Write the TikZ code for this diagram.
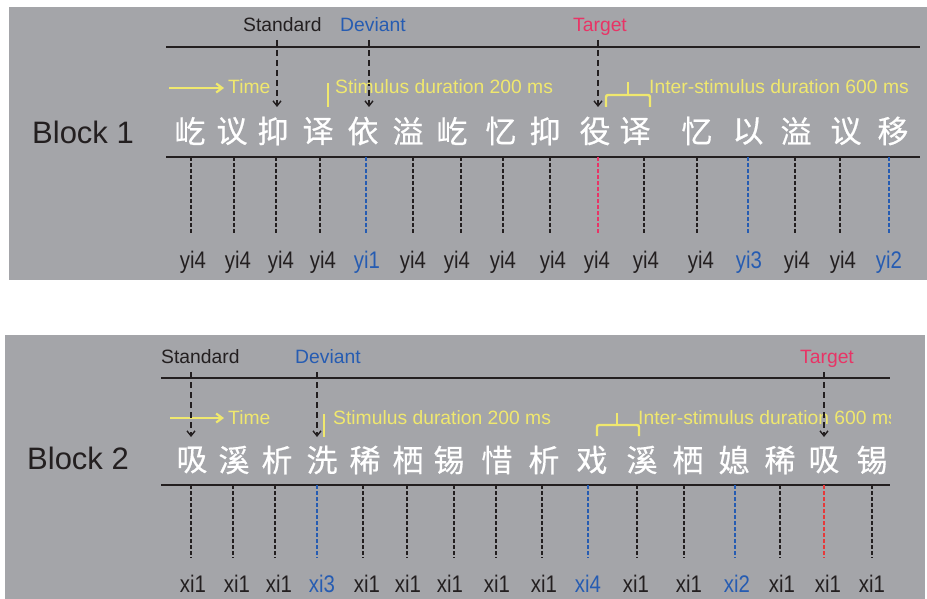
\documentclass[tikz,border=0pt]{standalone}
\usepackage{fontspec}
\setmainfont{Liberation Sans}
\newfontfamily\cjk[FakeBold=0.5]{Noto Sans CJK SC}
\newfontfamily\narrowf[FakeStretch=0.85]{Liberation Sans}
\usetikzlibrary{arrows.meta}
\definecolor{bg}{RGB}{164,165,169}
\definecolor{ylw}{RGB}{240,232,110}
\definecolor{blu}{RGB}{38,92,178}
\definecolor{pnk}{RGB}{232,52,102}
\definecolor{rd}{RGB}{230,58,58}
\definecolor{ink}{RGB}{35,31,32}
\tikzset{
  lbl/.style={inner sep=0pt, anchor=base west, font=\fontsize{19.3}{19.3}\selectfont},
  yl/.style={lbl, text=ylw},
  blk/.style={inner sep=0pt, anchor=base west, text=ink, font=\fontsize{31}{31}\selectfont},
  hz/.style={line width=2.6pt, ink},
  chr/.style={inner sep=0pt, text=white, font=\cjk\fontsize{31}{31}\selectfont},
  syl/.style={inner sep=0pt, anchor=base, font=\narrowf\fontsize{24}{24}\selectfont},
  tick/.style={line width=1.3pt, dash pattern=on 4pt off 2pt},
  darr/.style={line width=1.4pt, ink, dash pattern=on 6pt off 4pt, -{Straight Barb[length=5pt,width=8pt,line width=1.4pt]}},
  yarr/.style={line width=2.2pt, ylw, -{Straight Barb[length=6pt,width=9pt,line width=2.2pt]}},
  ybar/.style={line width=2.6pt, ylw},
}
\begin{document}
\begin{tikzpicture}[x=1pt,y=-1pt]
\useasboundingbox (0,0) rectangle (927,599);
\fill[white] (0,0) rectangle (927,599);
% ---------- Block 1 ----------
\fill[bg] (9,7) rectangle (927,280);
\coordinate (l1a) at (166,47); \coordinate (l1b) at (920,47);
\coordinate (l1c) at (166,157); \coordinate (l1d) at (920,157);
\draw[hz] (l1a) -- (l1b);
\draw[hz] (l1c) -- (l1d);
\node[blk] (b1) at (32,144) {Block 1};
\node[lbl, text=ink] (s1) at (243,32) {Standard};
\node[lbl, text=blu] (d1) at (340,32) {Deviant};
\node[lbl, text=pnk] (t1) at (573,32) {Target};
\coordinate (s1a) at (277,40); \coordinate (s1b) at (277,107);
\coordinate (d1a) at (369,40); \coordinate (d1b) at (369,107);
\coordinate (t1a) at (598,40); \coordinate (t1b) at (598,107);
\draw[darr] (s1a) -- (s1b);
\draw[darr] (d1a) -- (d1b);
\draw[darr] (t1a) -- (t1b);
\coordinate (ya1) at (169,88); \coordinate (yb1) at (224,88);
\draw[yarr] (ya1) -- (yb1);
\node[yl] (time1) at (228,94) {Time};
\coordinate (bar1a) at (328,83); \coordinate (bar1b) at (328,107);
\draw[ybar] (bar1a) -- (bar1b);
\node[yl] (stim1) at (335,94) {Stimulus duration 200 ms};
\draw[ybar, line width=2.4pt, rounded corners=2pt] (606,107) -- (606,95) -- (650,95) -- (650,107);
\draw[ybar, line width=2.4pt] (628,95) -- (628,82);
\node[yl] (isi1) at (649,94) {Inter-stimulus duration 600 ms};
\foreach \cx/\ch [count=\i] in {190/屹,232/议,273/抑,318/译,363/依,408/溢,452/屹,501/忆,545/抑,595/役,635/译,697/忆,748/以,796/溢,846/议,893/移}
  \node[chr] (c1-\i) at (\cx,131) {\ch};
\foreach \tx/\col [count=\i] in {191/ink,234/ink,276/ink,320/ink,366/blu,413/ink,461/ink,503/ink,550/ink,598/pnk,644/ink,697/ink,748/blu,795/ink,840/ink,889/blu}
  \draw[tick, \col] (\tx,157) -- (\tx,233);
\foreach \lx/\lt/\col [count=\i] in {193/yi4/ink,238/yi4/ink,281/yi4/ink,323/yi4/ink,367/yi1/blu,413/yi4/ink,457/yi4/ink,503/yi4/ink,553/yi4/ink,597/yi4/ink,646/yi4/ink,701/yi4/ink,749/yi3/blu,797/yi4/ink,843/yi4/ink,889/yi2/blu}
  \node[syl, text=\col] (p1-\i) at (\lx,268) {\lt};
% ---------- Block 2 ----------
\fill[bg] (5,335) rectangle (925,599);
\coordinate (l2a) at (161,378); \coordinate (l2b) at (890,378);
\coordinate (l2c) at (161,485); \coordinate (l2d) at (890,485);
\draw[hz] (l2a) -- (l2b);
\draw[hz] (l2c) -- (l2d);
\node[blk] (b2) at (27,469) {Block 2};
\node[lbl, text=ink] (s2) at (161,363) {Standard};
\node[lbl, text=blu] (d2) at (295,363) {Deviant};
\node[lbl, text=pnk] (t2) at (800,363) {Target};
\coordinate (s2a) at (191,372); \coordinate (s2b) at (191,437);
\coordinate (d2a) at (317,372); \coordinate (d2b) at (317,437);
\coordinate (t2a) at (824,372); \coordinate (t2b) at (824,437);
\coordinate (ya2) at (170,418); \coordinate (yb2) at (224,418);
\draw[yarr] (ya2) -- (yb2);
\node[yl] (time2) at (228,424) {Time};
\coordinate (bar2a) at (324,414); \coordinate (bar2b) at (324,437);
\draw[ybar] (bar2a) -- (bar2b);
\node[yl] (stim2) at (333,424) {Stimulus duration 200 ms};
\draw[ybar, line width=2.4pt, rounded corners=2pt] (597,436) -- (597,425) -- (639,425) -- (639,436);
\draw[ybar, line width=2.4pt] (617,425) -- (617,413);
\begin{scope}
\clip (0,335) rectangle (890,599);
\node[yl] (isi2) at (638,424) {Inter-stimulus duration 600 ms};
\end{scope}
\draw[darr] (s2a) -- (s2b);
\draw[darr] (d2a) -- (d2b);
\draw[darr] (t2a) -- (t2b);
\foreach \cx/\ch [count=\i] in {192/吸,234/溪,277/析,322/洗,365/稀,408/栖,449/锡,497/惜,544/析,592/戏,642/溪,688/栖,734/媳,780/稀,824/吸,872/锡}
  \node[chr] (c2-\i) at (\cx,460) {\ch};
\foreach \tx/\col [count=\i] in {191/ink,233/ink,275/ink,317/blu,363/ink,407/ink,454/ink,496/ink,542/ink,588/blu,637/ink,684/ink,735/blu,780/ink,824/rd,872/ink}
  \draw[tick, \col] (\tx,485) -- (\tx,558);
\foreach \lx/\lt/\col [count=\i] in {193/xi1/ink,237/xi1/ink,279/xi1/ink,322/xi3/blu,367/xi1/ink,408/xi1/ink,450/xi1/ink,497/xi1/ink,544/xi1/ink,588/xi4/blu,636/xi1/ink,689/xi1/ink,737/xi2/blu,782/xi1/ink,828/xi1/ink,872/xi1/ink}
  \node[syl, text=\col] (p2-\i) at (\lx,592) {\lt};
\end{tikzpicture}
\end{document}
